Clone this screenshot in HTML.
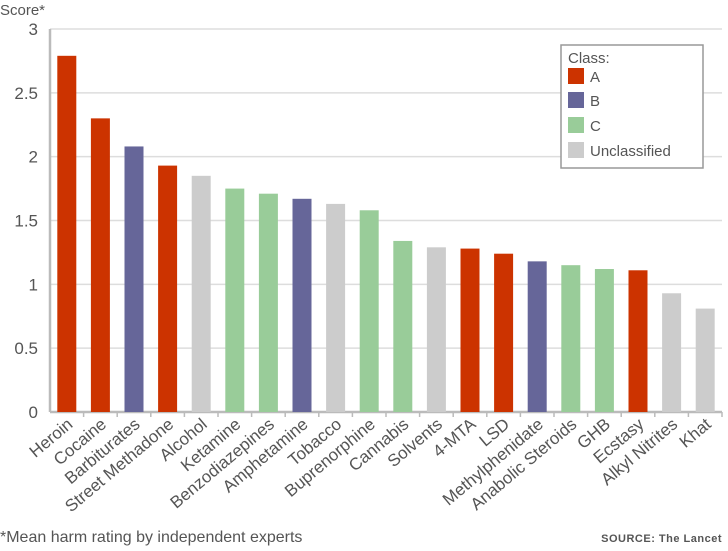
<!DOCTYPE html>
<html><head><meta charset="utf-8"><style>
body{margin:0;background:#fff;}
svg text{font-family:"Liberation Sans",sans-serif;fill:#555;}
</style></head><body>
<svg id="chart" width="728" height="546" xmlns="http://www.w3.org/2000/svg">
<g id="grid"></g><g id="bars"></g><g id="labels"></g>
<text x="0" y="15" font-size="15">Score*</text>
<text x="0" y="542" font-size="16">*Mean harm rating by independent experts</text>
<text x="722" y="542" font-size="11" text-anchor="end" font-weight="bold" style="letter-spacing:0.5px">SOURCE: The Lancet</text>
<g>
<rect x="561" y="45" width="142" height="123" fill="#fff" stroke="#999" stroke-width="1.5"/>
<text x="568" y="63" font-size="15">Class:</text>
<rect x="568" y="68" width="16" height="16" fill="#cc3300"/><text x="590" y="82" font-size="15">A</text>
<rect x="568" y="92" width="16" height="16" fill="#666699"/><text x="590" y="106" font-size="15">B</text>
<rect x="568" y="117" width="16" height="16" fill="#99cc99"/><text x="590" y="131" font-size="15">C</text>
<rect x="568" y="142" width="16" height="16" fill="#cccccc"/><text x="590" y="156" font-size="15">Unclassified</text>
</g>
</svg>
<script>
const categories=["Heroin","Cocaine","Barbiturates","Street Methadone","Alcohol","Ketamine","Benzodiazepines","Amphetamine","Tobacco","Buprenorphine","Cannabis","Solvents","4-MTA","LSD","Methylphenidate","Anabolic Steroids","GHB","Ecstasy","Alkyl Nitrites","Khat"];
const values=[2.79,2.30,2.08,1.93,1.85,1.75,1.71,1.67,1.63,1.58,1.34,1.29,1.28,1.24,1.18,1.15,1.12,1.11,0.93,0.81];
const classes=["A","A","B","A","U","C","C","B","U","C","C","U","A","A","B","C","C","A","U","U"];
const yTicks=[0,0.5,1,1.5,2,2.5,3];
const colors={A:"#cc3300",B:"#666699",C:"#99cc99",U:"#cccccc"};
const NS="http://www.w3.org/2000/svg";
const x0=50,x1=722,yb=412,yt=29;
const y=v=>yb-(v/3)*(yb-yt);
const step=(x1-x0)/categories.length;
const xc=i=>x0+step*(i+0.5);
const grid=document.getElementById('grid'),bars=document.getElementById('bars'),labels=document.getElementById('labels');
function mk(tag,attrs,parent){const e=document.createElementNS(NS,tag);for(const k in attrs)e.setAttribute(k,attrs[k]);parent.appendChild(e);return e;}
yTicks.forEach(t=>{
  const l=mk('line',{x1:x0,x2:x1,y1:y(t),y2:y(t),stroke:t===0?'#bbb':'#ddd','stroke-width':t===0?2.5:1.5},grid);
  
  
  const tx=mk('text',{x:38,y:y(t)+6,'font-size':17,'text-anchor':'end'},grid);
  tx.textContent=String(t);
  
  
});
const ax=mk('line',{x1:x0,x2:x0,y1:yt,y2:yb,stroke:'#bbb','stroke-width':2.5},grid);


categories.forEach((c,i)=>{
  const tk=mk('line',{x1:x0+step*(i+1),x2:x0+step*(i+1),y1:yb,y2:yb+5,stroke:'#bbb','stroke-width':1.5},grid);
  
  
  const r=mk('rect',{x:xc(i)-9.5,y:y(values[i]),width:19,height:yb-y(values[i]),fill:colors[classes[i]]},bars);
  
  
  const t=mk('text',{x:xc(i)+7,y:yb+14,'font-size':17,'text-anchor':'end',transform:`rotate(-40 ${xc(i)+7} ${yb+14})`},labels);
  t.textContent=c;
  
  
});
</script>
</body></html>
